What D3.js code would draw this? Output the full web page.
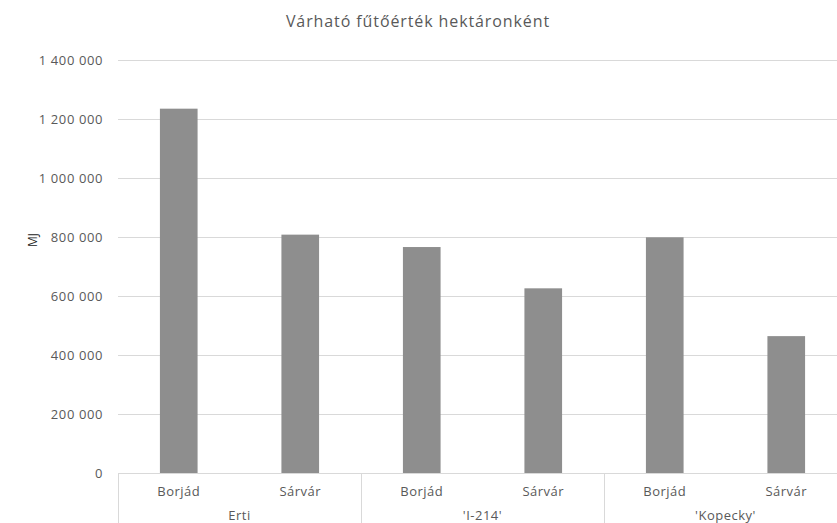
<!DOCTYPE html>
<html><head><meta charset="utf-8">
<script src="https://cdn.jsdelivr.net/npm/d3@7"></script>
<style>body{margin:0;background:#fff;}svg{display:block;}</style>
</head><body>
<svg id="c" width="837" height="523"></svg>
<script>
const title = "Várható fűtőérték hektáronként";
const yLabel = "MJ";
const groups = ["Erti", "'I-214'", "'Kopecky'"];
const sites = ["Borjád", "Sárvár"];
const values = [1235000, 808000, 766000, 626000, 799000, 464000];
const yTicks = [0, 200000, 400000, 600000, 800000, 1000000, 1200000, 1400000];

const W = 837, H = 523;
const m = {left: 118, right: -10, top: 60, bottom: 50};
const svg = d3.select("#c");
const font = "Open Sans, sans-serif";
const txt = "#595959";
const grid = "#d9d9d9";

const cats = [];
groups.forEach(g => sites.forEach(s => cats.push(g + "|" + s)));

const x = d3.scaleBand().domain(cats).range([m.left, W - m.right]).paddingInner(0.69).paddingOuter(0.345);
const y = d3.scaleLinear().domain([0, 1400000]).range([H - m.bottom, m.top]);
const fmt = v => d3.format(",")(v).replace(/,/g, " ");

// gridlines
svg.append("g").selectAll("line").data(yTicks.filter(t => t > 0)).join("line")
  .attr("x1", m.left).attr("x2", W - m.right)
  .attr("y1", d => Math.round(y(d)) + 0.5).attr("y2", d => Math.round(y(d)) + 0.5)
  .attr("stroke", grid).attr("stroke-width", 1);

// y tick labels
svg.append("g").selectAll("text").data(yTicks).join("text")
  .attr("x", 103).attr("y", d => y(d)).attr("dy", "0.35em")
  .attr("text-anchor", "end").attr("font-family", font).attr("font-size", 13)
  .attr("letter-spacing", 0.6)
  .attr("fill", txt).text(fmt);

// bars
svg.append("g").selectAll("rect").data(values).join("rect")
  .attr("x", (d, i) => x(cats[i])).attr("width", x.bandwidth())
  .attr("y", d => y(d)).attr("height", d => y(0) - y(d))
  .attr("fill", "#8e8e8e");

// x axis line
const y0 = Math.round(y(0)) + 0.5;
svg.append("line").attr("x1", m.left).attr("x2", W - m.right).attr("y1", y0).attr("y2", y0)
  .attr("stroke", grid);

// group dividers
const groupW = (x.step()) * 2;
const groupEdges = groups.map((g, i) => x(g + "|" + sites[0]) - x.step() * x.paddingInner() / 2);
svg.append("g").selectAll("line").data(groupEdges).join("line")
  .attr("x1", d => Math.round(d) + 0.5).attr("x2", d => Math.round(d) + 0.5)
  .attr("y1", y0).attr("y2", H)
  .attr("stroke", grid);

// site labels
svg.append("g").selectAll("text").data(cats).join("text")
  .attr("x", d => x(d) + x.bandwidth() / 2).attr("y", y(0) + 23)
  .attr("text-anchor", "middle").attr("font-family", font).attr("font-size", 13)
  .attr("letter-spacing", 0.5)
  .attr("fill", txt).text(d => d.split("|")[1]);

// group labels
svg.append("g").selectAll("text").data(groups).join("text")
  .attr("x", (d, i) => groupEdges[i] + groupW / 2).attr("y", y(0) + 47)
  .attr("text-anchor", "middle").attr("font-family", font).attr("font-size", 13)
  .attr("letter-spacing", 0.5)
  .attr("fill", txt).text(d => d);

// title
svg.append("text").attr("x", 418).attr("y", 27).attr("text-anchor", "middle")
  .attr("font-family", font).attr("font-size", 16).attr("letter-spacing", 0.9)
  .attr("fill", txt).text(title);

// y label
svg.append("text").attr("transform", `translate(37,${240}) rotate(-90)`)
  .attr("text-anchor", "middle").attr("font-family", font).attr("font-size", 12)
  .attr("fill", "#222").text(yLabel);
</script>
</body></html>
